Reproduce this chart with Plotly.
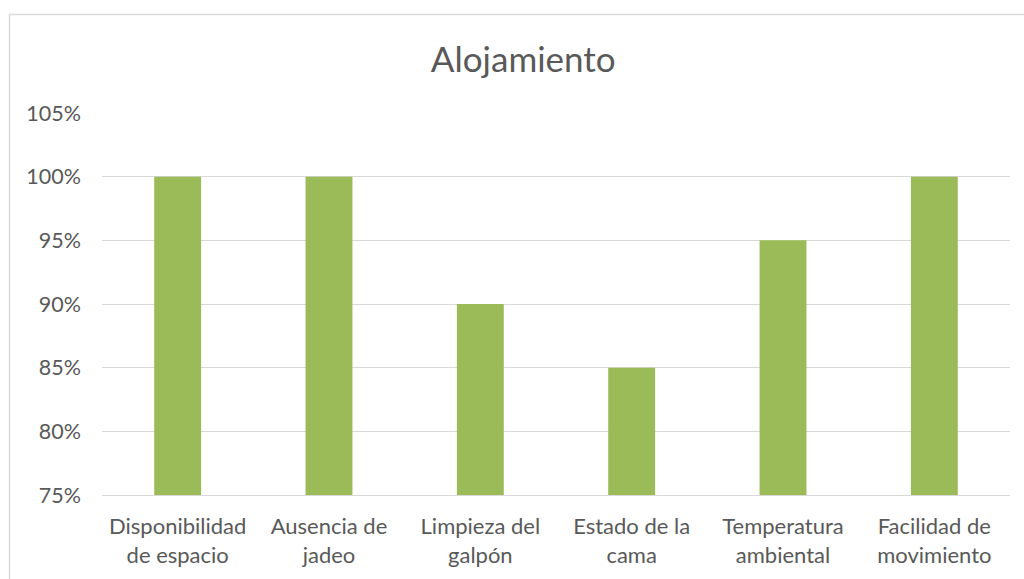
import plotly.graph_objects as go

categories = ["Disponibilidad<br>de espacio", "Ausencia de<br>jadeo", "Limpieza del<br>galpón",
              "Estado de la<br>cama", "Temperatura<br>ambiental", "Facilidad de<br>movimiento"]
values = [1.00, 1.00, 0.90, 0.85, 0.95, 1.00]
y_ticks = [0.75, 0.80, 0.85, 0.90, 0.95, 1.00, 1.05]

W, H = 1024, 579
L, R, T, B = 102, 14, 113, 84
pw, ph = W - L - R, H - T - B

fig = go.Figure(go.Bar(x=categories, y=values, marker_color="#9BBB59", marker_line_width=0))

font_family = "Lato, Open Sans, sans-serif"
fig.update_layout(
    width=W, height=H,
    margin=dict(l=L, r=R, t=T, b=B),
    paper_bgcolor="white", plot_bgcolor="white",
    bargap=0.69,
    showlegend=False,
    title=dict(text="Alojamiento", x=0.511, xanchor="center", y=1 - 60 / H, yanchor="middle",
               font=dict(family=font_family, size=35, color="#595959")),
    font=dict(family=font_family, color="#595959"),
)
fig.update_yaxes(range=[0.75, 1.05], tickvals=y_ticks, tickformat=".0%",
                 showgrid=True, gridcolor="#d9d9d9", gridwidth=1, zeroline=False,
                 showline=False, ticks="", ticklabelstandoff=20,
                 tickfont=dict(size=21.5, color="#595959"))
fig.update_xaxes(showgrid=False, showline=True, linecolor="#d9d9d9", linewidth=1, ticks="",
                 ticklabelstandoff=12,
                 tickfont=dict(size=22, color="#595959"))

# chart-area border (cropped on right and bottom)
fig.add_shape(type="rect", xref="paper", yref="paper",
              x0=(9.5 - L) / pw, x1=(W + 20 - L) / pw,
              y0=-(B + 20) / ph, y1=(H - B - 14.5) / ph,
              line=dict(color="#d9d9d9", width=1.5), fillcolor="rgba(0,0,0,0)", layer="below")

fig.write_html("out.html")
